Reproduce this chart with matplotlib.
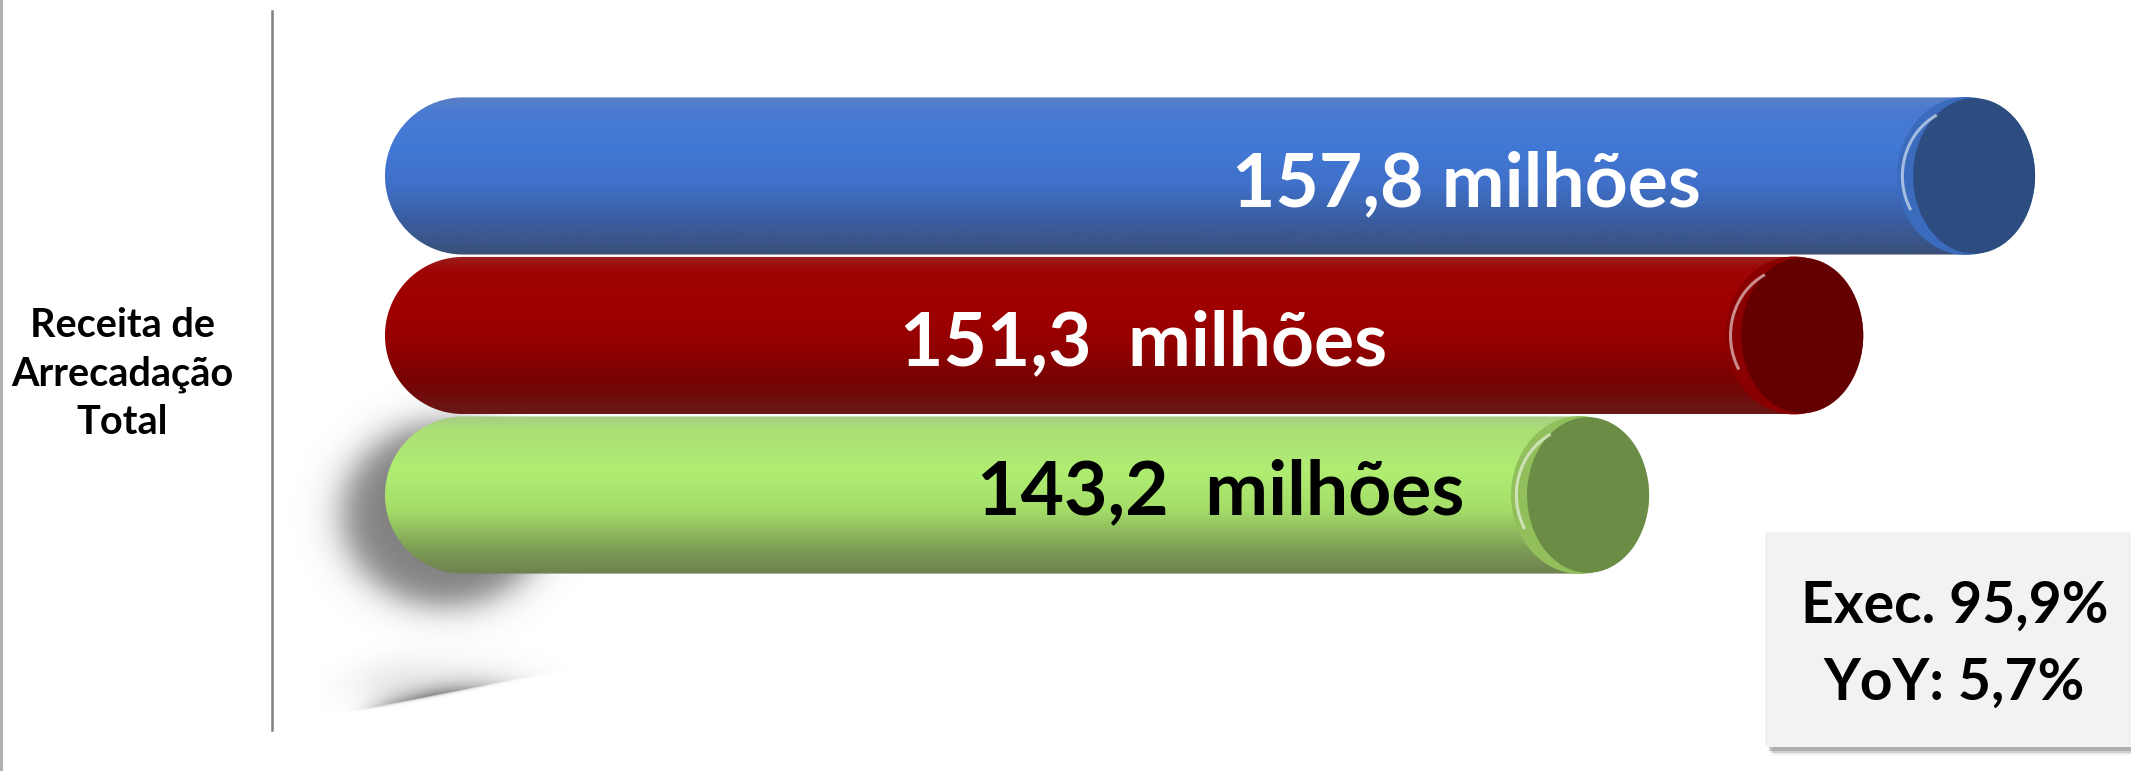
import numpy as np
import matplotlib
matplotlib.use("Agg")
import matplotlib.pyplot as plt
from matplotlib.colors import LinearSegmentedColormap
from matplotlib.patches import Ellipse, PathPatch, Rectangle, Arc
from matplotlib.path import Path

# ---------------- data ----------------
series = ["Orçado", "Realizado", "Ano anterior"]
values = [157.8, 151.3, 143.2]
value_labels = ["157,8 milhões", "151,3  milhões", "143,2  milhões"]
row_label = "Receita de\nArrecadação\nTotal"
exec_pct = values[1] / values[0] * 100
yoy_pct = (values[1] / values[2] - 1) * 100
box_lines = ["Exec. " + f"{exec_pct:.1f}".replace(".", ",") + "%",
             "YoY: " + f"{yoy_pct:.1f}".replace(".", ",") + "%"]

# ---------------- styles ----------------
W, H = 2131, 771
plt.rcParams['font.family'] = ['Lato', 'DejaVu Sans']

body_stops = [
    [(0.0, "#5a7fc2"), (0.08, "#4a7bd0"), (0.3, "#4279d6"), (0.55, "#4070c9"), (0.8, "#3a5c9e"), (1.0, "#3a5078")],
    [(0.0, "#9a2020"), (0.08, "#9e0606"), (0.3, "#a00000"), (0.55, "#950000"), (0.8, "#760303"), (1.0, "#6a1818")],
    [(0.0, "#a8cc88"), (0.08, "#aade76"), (0.35, "#b0ee72"), (0.6, "#a3dc68"), (0.85, "#7c9c55"), (1.0, "#6e8050")],
]
rim_colors = ["#3a6bbd", "#8a0000", "#90bf5c"]
face_colors = ["#2d4c80", "#650000", "#6a8c45"]
text_colors = ["white", "white", "black"]

fig = plt.figure(figsize=(W / 100, H / 100), dpi=100)
fig.patch.set_facecolor("white")

# decoration layer in pixel units
deco = fig.add_axes([0, 0, 1, 1])
deco.set_xlim(0, W)
deco.set_ylim(H, 0)
deco.axis("off")

# data layer
ax = fig.add_axes([0, 0, 1, 1])
ax.axis("off")
ax.set_zorder(2)
ax.patch.set_alpha(0)

PX = 26.44          # pixels per value unit
X0 = 83.44          # value at left figure edge
axis_min = 98.0     # start of bars
xlim = (X0, X0 + W / PX)
ylim = (3.730, -1.103)

# ---------- shadow blob behind lower-left ----------
gx, gy = np.meshgrid(np.arange(240, 680), np.arange(370, 720))
r = np.sqrt(((gx - 445) / 128.0) ** 2 + ((gy - 514) / 114.0) ** 2)
a = 0.50 / (1 + np.exp((r - 0.80) / 0.085))
rgba = np.zeros(gx.shape + (4,))
rgba[..., 3] = a
deco.imshow(rgba, extent=(240, 680, 720, 370), origin="upper", interpolation="bilinear", zorder=1)

# ---------- perspective wedge shadow ----------
gx, gy = np.meshgrid(np.arange(320, 620), np.arange(600, 740))
yl = 713 + (gx - 340) * (670 - 713) / 217.0
d = yl - gy
t = (gx - 340) / 217.0
along = np.exp(-((t - 0.42) / 0.30) ** 2) / (1 + np.exp(-(t - 0.1) / 0.04))
a = np.where(d >= 0, np.exp(-d / 12.0), np.exp(d / 1.2)) * along * 0.45
haze = np.where(d >= 0, np.exp(-((d - 28) / 22.0) ** 2), 0) * np.exp(-((t - 0.2) / 0.22) ** 2) * 0.05
rgba = np.zeros(gx.shape + (4,))
rgba[..., 3] = np.clip(a + haze, 0, 1)
deco.imshow(rgba, extent=(320, 620, 740, 600), origin="upper", interpolation="bilinear", zorder=1)

# ---------- bars (cylinders) ----------
h = 0.985
rxl = 78 / PX
cap_w = 2 * 69 / PX
cap_h = 0.99
face_dx = 8 / PX
grad = np.linspace(0, 1, 256).reshape(-1, 1)
for i, v in enumerate(values):
    yc = i
    th = np.linspace(np.pi / 2, 3 * np.pi / 2, 80)
    lx = axis_min + rxl + rxl * np.cos(th)
    ly = yc - (h / 2) * np.sin(th)
    verts = list(zip(lx, ly)) + [(v, yc + h / 2), (v, yc - h / 2), (lx[0], ly[0])]
    codes = [Path.MOVETO] + [Path.LINETO] * (len(verts) - 2) + [Path.CLOSEPOLY]
    patch = PathPatch(Path(verts, codes), facecolor="none", edgecolor="none", zorder=2)
    ax.add_patch(patch)
    cmap = LinearSegmentedColormap.from_list(f"b{i}", body_stops[i])
    im = ax.imshow(grad, cmap=cmap, extent=(axis_min, v, yc + h / 2, yc - h / 2),
                   aspect="auto", origin="upper", interpolation="bilinear", zorder=2)
    im.set_clip_path(patch)
    ax.add_patch(Ellipse((v, yc), cap_w, cap_h, facecolor=rim_colors[i], edgecolor="none", zorder=3))
    ax.add_patch(Ellipse((v + face_dx, yc), cap_w - 2 * face_dx, cap_h * 0.985,
                         facecolor=face_colors[i], edgecolor="none", zorder=4))
    ax.add_patch(Arc((v - 0.2 * face_dx, yc), cap_w * 0.90, cap_h * 0.86, theta1=174, theta2=200,
                     color="white", alpha=0.55, lw=2.2, zorder=4.5))

# value labels
label_x = [values[0] - 18.9, values[1] - 24.6, values[2] - 13.6]
label_dy = [0.19, 0.185, 0.12]
for i, v in enumerate(values):
    ax.text(label_x[i], i + label_dy[i], value_labels[i], ha="center", va="baseline",
            fontsize=54, fontweight="bold", color=text_colors[i], zorder=6)

ax.set_xlim(*xlim)
ax.set_ylim(*ylim)

# ---------- left label, divider, border ----------
deco.add_patch(Rectangle((0, 0), 3, H, facecolor="#b0b0b0", edgecolor="none", zorder=2))
deco.plot([272, 272], [11, 730], color="#808080", lw=1.8, zorder=2)
deco.text(122, 374, row_label, ha="center", va="center", fontsize=28.5, fontweight="bold",
          color="black", linespacing=1.38, zorder=3)

# ---------- summary box ----------
for k, (dx, al) in enumerate([(8, 0.15), (6, 0.3), (4, 0.45)]):
    deco.add_patch(Rectangle((1765 + dx, 532 + dx), 420, 215, facecolor="#8a8a8a",
                             edgecolor="none", alpha=al, zorder=2))
deco.add_patch(Rectangle((1765, 532), 420, 215, facecolor="#f2f2f2", edgecolor="none", zorder=3))
deco.text(1955, 623, box_lines[0], ha="center", va="baseline", fontsize=41, fontweight="bold", zorder=4)
deco.text(1954, 700, box_lines[1], ha="center", va="baseline", fontsize=41, fontweight="bold", zorder=4)

fig.savefig("out.png", dpi=100, facecolor="white")
